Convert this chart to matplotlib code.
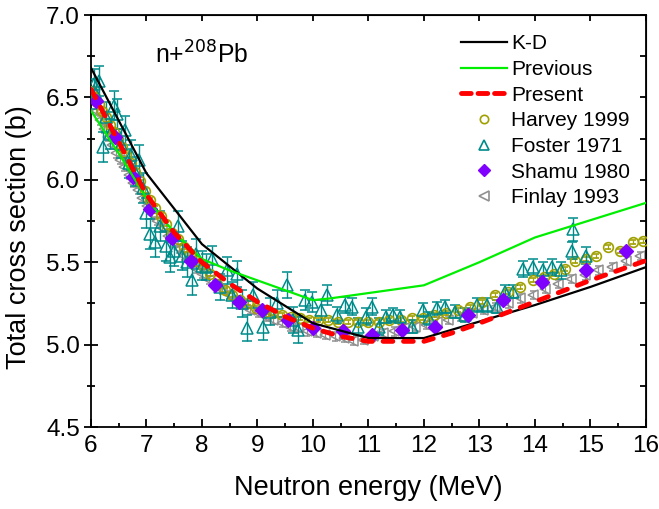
import matplotlib
matplotlib.use("Agg")
import matplotlib.pyplot as plt
from matplotlib.lines import Line2D
from matplotlib.ticker import MultipleLocator, FormatStrFormatter

plt.rcParams['font.family'] = ['Liberation Sans', 'DejaVu Sans']

# ---------------- data ----------------
kd_x = [6.0, 7.0, 8.0, 9.0, 10.0, 11.0, 12.0, 13.0, 14.0, 15.0, 16.0]
kd_y = [6.68, 6.04, 5.61, 5.34, 5.13, 5.04, 5.04, 5.14, 5.24, 5.35, 5.47]

prev_x = [6.0, 6.5, 7.0, 7.5, 8.0, 8.5, 9.0, 10.0, 10.3, 12.0, 13.0, 14.0, 15.0, 16.0]
prev_y = [6.42, 6.16, 5.89, 5.68, 5.52, 5.45, 5.39, 5.27, 5.28, 5.36, 5.50, 5.65, 5.755, 5.86]

pres_x = [6.0, 6.5, 7.0, 7.5, 8.0, 8.5, 9.0, 9.5, 10.0, 10.5, 11.0, 12.0, 12.5, 13.0, 14.0, 15.0, 16.0]
pres_y = [6.55, 6.23, 5.91, 5.68, 5.50, 5.37, 5.26, 5.17, 5.10, 5.05, 5.02, 5.02, 5.07, 5.13, 5.26, 5.39, 5.51]

harvey_x = [6.02, 6.08, 6.14, 6.20, 6.27, 6.34, 6.41, 6.48, 6.56, 6.64, 6.72, 6.80, 6.89, 6.98,
            7.07, 7.16, 7.26, 7.36, 7.46, 7.57, 7.68, 7.79, 7.91, 8.03, 8.15, 8.28, 8.41, 8.55,
            8.69, 8.83, 8.98, 9.13, 9.28, 9.44, 9.60, 9.76, 9.93, 10.10, 10.27, 10.45, 10.63,
            10.81, 11.00, 11.19, 11.38, 11.58, 11.78, 11.98, 12.19, 12.40, 12.61, 12.83, 13.05,
            13.28, 13.51, 13.74, 13.96, 14.16, 14.35, 14.54, 14.72, 14.93, 15.11, 15.32, 15.53,
            15.77, 15.95]
harvey_y = [6.54, 6.50, 6.46, 6.42, 6.38, 6.33, 6.29, 6.25, 6.20, 6.15, 6.10, 6.05, 5.99, 5.93,
            5.88, 5.83, 5.78, 5.73, 5.68, 5.64, 5.59, 5.55, 5.51, 5.47, 5.43, 5.37, 5.33, 5.30,
            5.27, 5.25, 5.22, 5.20, 5.19, 5.18, 5.17, 5.16, 5.15, 5.15, 5.15, 5.14, 5.14,
            5.14, 5.14, 5.14, 5.15, 5.15, 5.16, 5.16, 5.18, 5.19, 5.21, 5.23, 5.26,
            5.30, 5.32, 5.35, 5.39, 5.41, 5.43, 5.46, 5.51, 5.52, 5.54, 5.59, 5.57,
            5.62, 5.63]
harvey_err = 0.012

foster_x = [6.05, 6.10, 6.15, 6.22, 6.28, 6.35, 6.42, 6.47, 6.55, 6.62, 6.68, 6.73, 6.80, 6.87,
            6.93, 7.00, 7.06, 7.15, 7.25, 7.35, 7.42, 7.50, 7.57, 7.64, 7.73, 7.82, 7.90, 8.00,
            8.08, 8.18, 8.32, 8.45, 8.55, 8.63, 8.72, 8.81, 8.92, 9.10, 9.22, 9.35, 9.53, 9.65,
            9.73, 9.85, 9.98, 10.15, 10.25, 10.43, 10.58, 10.70, 10.81, 10.95, 11.06, 11.20,
            11.32, 11.45, 11.57, 11.78, 11.98, 12.10, 12.23, 12.38, 12.56, 12.75, 12.96, 13.13,
            13.31, 13.46, 13.60, 13.79, 13.97, 14.15, 14.31, 14.48, 14.67, 14.69, 14.92]
foster_y = [6.58, 6.52, 6.60, 6.20, 6.38, 6.28, 6.45, 6.40, 6.22, 6.30, 6.10, 6.15, 6.05, 6.12,
            5.95, 5.80, 5.67, 5.62, 5.72, 5.60, 5.53, 5.57, 5.72, 5.54, 5.50, 5.39, 5.55, 5.48,
            5.47, 5.52, 5.35, 5.45, 5.30, 5.43, 5.25, 5.10, 5.30, 5.11, 5.20, 5.25, 5.36, 5.15,
            5.09, 5.27, 5.26, 5.21, 5.30, 5.18, 5.24, 5.23, 5.11, 5.17, 5.23, 5.11,
            5.17, 5.18, 5.17, 5.11, 5.21, 5.16, 5.22, 5.23, 5.20, 5.18, 5.24, 5.24,
            5.23, 5.32, 5.32, 5.46, 5.47, 5.45, 5.47, 5.45, 5.57, 5.70, 5.54]
foster_err = [0.09, 0.09, 0.09, 0.09, 0.09, 0.09, 0.09, 0.09, 0.09, 0.09, 0.09, 0.09, 0.09, 0.09,
              0.09, 0.09, 0.09, 0.09, 0.09, 0.09, 0.09, 0.09, 0.09, 0.09, 0.09, 0.09, 0.09, 0.09,
              0.08, 0.08, 0.08, 0.08, 0.08, 0.08, 0.08, 0.08, 0.08, 0.08, 0.08, 0.08, 0.08, 0.08,
              0.08, 0.06, 0.06, 0.06, 0.06, 0.05, 0.05, 0.05, 0.05, 0.05, 0.05, 0.05,
              0.04, 0.04, 0.04, 0.04, 0.04, 0.04, 0.04, 0.04, 0.04, 0.04, 0.04, 0.04,
              0.04, 0.04, 0.04, 0.05, 0.05, 0.05, 0.05, 0.05, 0.05, 0.07, 0.05]

shamu_x = [6.10, 6.43, 6.76, 7.06, 7.46, 7.80, 8.23, 8.66, 9.09, 9.55, 10.0, 10.55, 11.07, 11.6,
           12.2, 12.8, 13.43, 14.13, 14.92, 15.65]
shamu_y = [6.48, 6.26, 6.02, 5.82, 5.65, 5.51, 5.36, 5.26, 5.21, 5.15, 5.10, 5.08, 5.06, 5.09,
           5.11, 5.18, 5.27, 5.38, 5.45, 5.57]

finlay_x = [6.03, 6.10, 6.17, 6.24, 6.31, 6.38, 6.45, 6.52, 6.60, 6.68, 6.76, 6.84, 6.92, 7.01,
            7.10, 7.19, 7.28, 7.38, 7.48, 7.58, 7.68, 7.79, 7.90, 8.01, 8.12, 8.24, 8.36, 8.48,
            8.61, 8.74, 8.87, 9.01, 9.15, 9.29, 9.44, 9.59, 9.74, 9.90, 10.06, 10.22, 10.39,
            10.56, 10.73, 10.91, 11.09, 11.27, 11.46, 11.65, 11.84, 12.04, 12.24, 12.44, 12.65,
            12.86, 13.07, 13.29, 13.51, 13.73, 13.96, 14.19, 14.42, 14.66, 14.90, 15.14, 15.39,
            15.64, 15.89]
finlay_y = [6.48, 6.42, 6.36, 6.31, 6.26, 6.21, 6.16, 6.12, 6.08, 6.03, 5.98, 5.94, 5.89, 5.84,
            5.79, 5.75, 5.71, 5.66, 5.62, 5.58, 5.54, 5.50, 5.46, 5.43, 5.39, 5.36, 5.33, 5.30,
            5.27, 5.24, 5.21, 5.19, 5.17, 5.15, 5.13, 5.11, 5.10, 5.08, 5.07, 5.06, 5.05,
            5.04, 5.02, 5.03, 5.05, 5.07, 5.08, 5.10, 5.11, 5.12, 5.14, 5.15, 5.17,
            5.19, 5.21, 5.23, 5.25, 5.28, 5.30, 5.34, 5.37, 5.40, 5.42, 5.45, 5.47,
            5.51, 5.54]
finlay_err = 0.025

# ---------------- figure ----------------
fig = plt.figure(figsize=(6.59, 5.09), dpi=100)
ax = fig.add_axes([0.138, 0.161, 0.842, 0.8095])

c_harvey = '#A0A000'
c_foster = '#008B8B'
c_shamu = '#8000FF'
c_finlay = '#909090'
c_prev = '#00EE00'
c_pres = '#FF0000'

ax.errorbar(finlay_x, finlay_y, yerr=finlay_err, fmt='<', ms=6.5, mfc='none', mec=c_finlay,
            mew=1.1, ecolor=c_finlay, elinewidth=0.9, capsize=2, zorder=2)
ax.errorbar(harvey_x, harvey_y, yerr=harvey_err, fmt='o', ms=7, mfc='none', mec=c_harvey,
            mew=1.2, ecolor=c_harvey, elinewidth=0.9, capsize=2.5, zorder=3)
ax.errorbar(foster_x, foster_y, yerr=foster_err, fmt='^', ms=8, mfc='none', mec=c_foster,
            mew=1.1, ecolor=c_foster, elinewidth=1.0, capsize=3.5, zorder=3)
ax.plot(shamu_x, shamu_y, 'D', ms=7.5, color=c_shamu, mec=c_shamu, zorder=4)

ax.plot(kd_x, kd_y, '-', color='black', lw=1.6, zorder=5)
ax.plot(prev_x, prev_y, '-', color=c_prev, lw=1.6, zorder=5)
ax.plot(pres_x, pres_y, '--', color=c_pres, lw=3.5, dashes=(2.0, 2.2),
        dash_capstyle='round', zorder=6)

ax.set_xlim(6, 16)
ax.set_ylim(4.5, 7.0)
ax.xaxis.set_major_locator(MultipleLocator(1))
ax.xaxis.set_minor_locator(MultipleLocator(0.5))
ax.yaxis.set_major_locator(MultipleLocator(0.5))
ax.yaxis.set_minor_locator(MultipleLocator(0.25))
ax.yaxis.set_major_formatter(FormatStrFormatter('%.1f'))

for s in ax.spines.values():
    s.set_linewidth(1.3)

ax.tick_params(axis='x', which='major', direction='in', length=6, width=1.3, pad=6, labelsize=17.5)
ax.tick_params(axis='x', which='minor', direction='in', length=3, width=1.3)
ax.tick_params(axis='y', which='major', direction='inout', length=10, width=1.3, pad=3, labelsize=17.5)
ax.tick_params(axis='y', which='minor', direction='inout', length=6, width=1.3)

secx = ax.secondary_xaxis('top')
secx.xaxis.set_major_locator(MultipleLocator(1))
secx.tick_params(axis='x', which='major', direction='in', length=4, width=1.3, labeltop=False)
secx.tick_params(axis='x', which='minor', length=0)
secy = ax.secondary_yaxis('right')
secy.yaxis.set_major_locator(MultipleLocator(0.25))
secy.tick_params(axis='y', which='major', direction='in', length=4, width=1.3, labelright=False)
secy.tick_params(axis='y', which='minor', length=0)

ax.set_xlabel('Neutron energy (MeV)', fontsize=19.5)
ax.set_ylabel('Total cross section (b)', fontsize=19.5)
ax.xaxis.set_label_coords(0.5, -0.117)
ax.yaxis.set_label_coords(-0.106, 0.46)

ax.text(8.0, 6.76, r'n+$^{208}$Pb', fontsize=17.8, ha='center', va='center')

legend_labels = ['K-D', 'Previous', 'Present', 'Harvey 1999', 'Foster 1971', 'Shamu 1980', 'Finlay 1993']
proxies = [
    Line2D([], [], color='black', lw=1.6),
    Line2D([], [], color=c_prev, lw=1.6),
    Line2D([], [], color=c_pres, lw=3.5, ls='--', dashes=(2.0, 1.4), dash_capstyle='round'),
    Line2D([], [], ls='none', marker='o', ms=6, mfc='none', mec=c_harvey, mew=1.2),
    Line2D([], [], ls='none', marker='^', ms=6.5, mfc='none', mec=c_foster, mew=1.2),
    Line2D([], [], ls='none', marker='D', ms=6.5, color=c_shamu),
    Line2D([], [], ls='none', marker='<', ms=6.5, mfc='none', mec=c_finlay, mew=1.2),
]
leg = ax.legend(proxies, legend_labels, loc='upper left', bbox_to_anchor=(0.667, 0.953),
                frameon=False, fontsize=15, handlelength=2.2, handletextpad=0.2,
                labelspacing=0.32, borderpad=0, borderaxespad=0)

fig.savefig('out.png', dpi=100)
